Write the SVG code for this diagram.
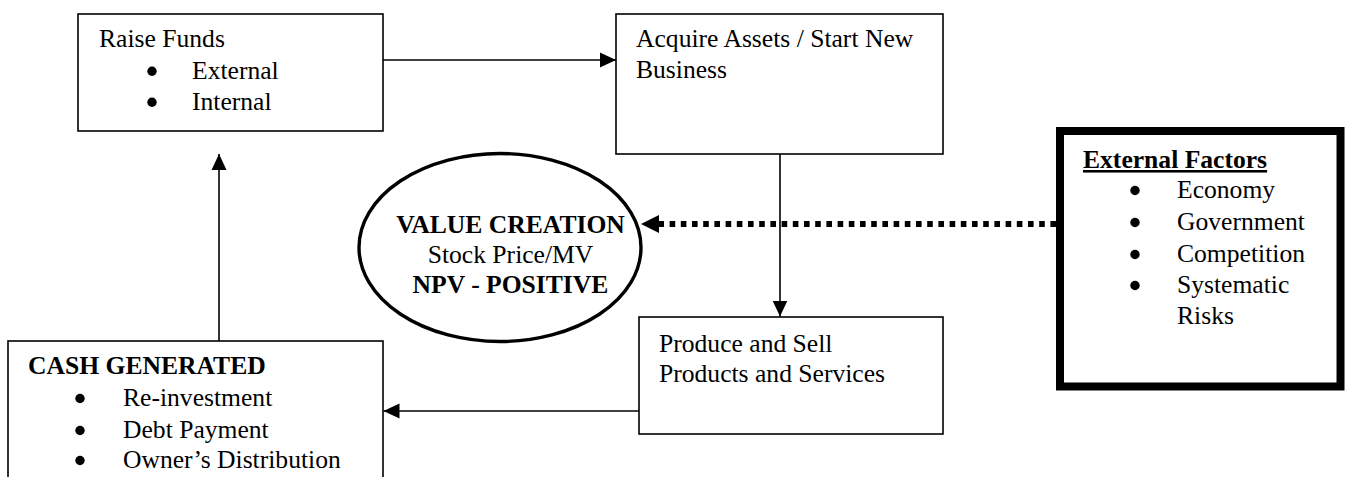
<svg xmlns="http://www.w3.org/2000/svg" width="1348" height="477" viewBox="0 0 1348 477">
<style>
text{font-family:"Liberation Serif","Times New Roman",serif;font-size:25.6px;fill:#000}
.b{font-weight:bold}
.dot{fill:#000}
.box{fill:#fff;stroke:#000;stroke-width:1.6}
.ln{stroke:#000;stroke-width:1.6;fill:none}
</style>
<defs>
<marker id="ah" markerUnits="userSpaceOnUse" markerWidth="16" markerHeight="16" refX="16" refY="8" orient="auto">
<path d="M0,0.5 L16,8 L0,15.5 Z" fill="#000"/>
</marker>
</defs>
<rect width="1348" height="477" fill="#fff"/>
<g id="connectors">
<line class="ln" x1="383" y1="60" x2="616" y2="60" marker-end="url(#ah)"/>
<line class="ln" x1="780" y1="154" x2="780" y2="316.5" marker-end="url(#ah)"/>
<line class="ln" x1="639" y1="411" x2="383.5" y2="411" marker-end="url(#ah)"/>
<line class="ln" x1="219" y1="341" x2="219" y2="154" marker-end="url(#ah)"/>
<line x1="1056" y1="224" x2="659" y2="224" stroke="#000" stroke-width="6" stroke-dasharray="5.6 5.6"/>
<path d="M659,215 L641,224 L659,233 Z" fill="#000"/>
</g>
<g id="raise-funds">
<rect class="box" x="78" y="14" width="305" height="117"/>
<text x="99" y="47">Raise Funds</text>
<circle class="dot" cx="152" cy="71.3" r="4.7"/><text x="192" y="79">External</text>
<circle class="dot" cx="152" cy="102.3" r="4.7"/><text x="192" y="110">Internal</text>
</g>
<g id="acquire-assets">
<rect class="box" x="616" y="14" width="327" height="140"/>
<text x="636" y="47">Acquire Assets / Start New</text>
<text x="636" y="78">Business</text>
</g>
<g id="value-creation">
<ellipse cx="500" cy="247.5" rx="141" ry="94" fill="#fff" stroke="#000" stroke-width="3.4"/>
<text x="510.5" y="233" text-anchor="middle" class="b">VALUE CREATION</text>
<text x="510.5" y="263" text-anchor="middle">Stock Price/MV</text>
<text x="510.5" y="293" text-anchor="middle" class="b">NPV - POSITIVE</text>
</g>
<g id="external-factors">
<rect x="1060" y="131" width="280.5" height="255.5" fill="#fff" stroke="#000" stroke-width="8"/>
<text x="1083" y="168" class="b" text-decoration="underline">External Factors</text>
<circle class="dot" cx="1135" cy="190.5" r="4.7"/><text x="1177" y="198">Economy</text>
<circle class="dot" cx="1135" cy="222.5" r="4.7"/><text x="1177" y="230">Government</text>
<circle class="dot" cx="1135" cy="254.5" r="4.7"/><text x="1177" y="262">Competition</text>
<circle class="dot" cx="1135" cy="285.5" r="4.7"/><text x="1177" y="293">Systematic</text>
<text x="1177" y="324">Risks</text>
</g>
<g id="produce-sell">
<rect class="box" x="639" y="317" width="304" height="117"/>
<text x="659" y="352">Produce and Sell</text>
<text x="659" y="382">Products and Services</text>
</g>
<g id="cash-generated">
<rect class="box" x="8" y="341" width="375" height="160"/>
<text x="28" y="374" class="b">CASH GENERATED</text>
<circle class="dot" cx="80" cy="398.5" r="4.7"/><text x="123" y="406">Re-investment</text>
<circle class="dot" cx="80" cy="430.5" r="4.7"/><text x="123" y="438">Debt Payment</text>
<circle class="dot" cx="80" cy="460.5" r="4.7"/><text x="123" y="468">Owner’s Distribution</text>
</g>
</svg>
